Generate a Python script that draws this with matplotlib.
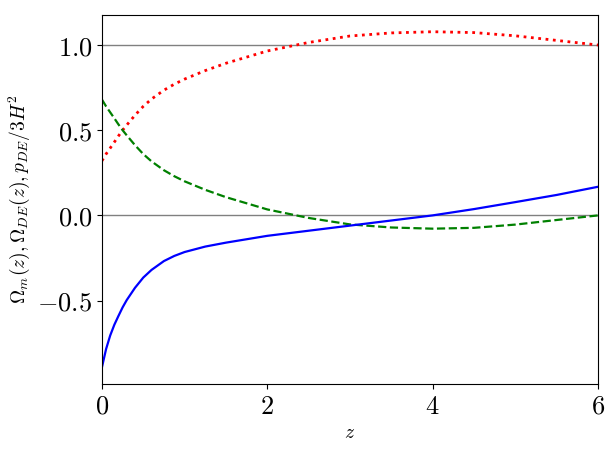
import matplotlib
matplotlib.use('Agg')
import matplotlib.pyplot as plt
from matplotlib.ticker import FuncFormatter

plt.rcParams['mathtext.fontset'] = 'cm'
plt.rcParams['font.family'] = 'serif'

# valores
z = [0.0, 0.05, 0.1, 0.15, 0.2, 0.25, 0.3, 0.4, 0.5, 0.6, 0.75, 0.875, 1.0, 1.25, 1.5,
     2.0, 2.5, 3.0, 3.5, 4.0, 4.5, 5.0, 5.5, 6.0]
omega_m = [0.32, 0.36, 0.395, 0.43, 0.466, 0.50, 0.53, 0.588, 0.64, 0.683, 0.735, 0.77,
           0.80, 0.85, 0.893, 0.965, 1.015, 1.053, 1.071, 1.078, 1.073, 1.054, 1.027, 1.0]
omega_de = [0.68, 0.64, 0.605, 0.57, 0.534, 0.50, 0.47, 0.412, 0.36, 0.317, 0.265, 0.23,
            0.20, 0.15, 0.107, 0.035, -0.015, -0.053, -0.071, -0.078, -0.073, -0.054, -0.027, 0.0]
p_de = [-0.892, -0.785, -0.705, -0.642, -0.59, -0.54, -0.497, -0.425, -0.365, -0.32,
        -0.268, -0.238, -0.215, -0.183, -0.16, -0.12, -0.09, -0.06, -0.03, 0.0, 0.037, 0.078,
        0.12, 0.168]

fig = plt.figure(figsize=(6.14, 4.53), dpi=100)
ax = fig.add_axes([0.166, 0.152, 0.808, 0.815])

ax.axhline(0, color='gray', lw=1)
ax.axhline(1, color='gray', lw=1)
ax.plot(z, omega_m, 'r:', lw=2)
ax.plot(z, omega_de, 'g--', lw=1.6)
ax.plot(z, p_de, 'b-', lw=1.6)

ax.set_xlim(0, 6)
ax.set_xticks([0, 2, 4, 6])
ax.set_yticks([-0.5, 0.0, 0.5, 1.0])
ax.xaxis.set_major_formatter(FuncFormatter(lambda v, p: f'${v:g}$'))
ax.yaxis.set_major_formatter(FuncFormatter(lambda v, p: f'${v:.1f}$'))
ax.tick_params(labelsize=19)
ax.set_xlabel(r'$z$', fontsize=14)
ax.set_ylabel(r'$\Omega_m(z), \Omega_{DE}(z), p_{DE}/3H^2$', fontsize=14)

plt.savefig('out.png', dpi=100)
